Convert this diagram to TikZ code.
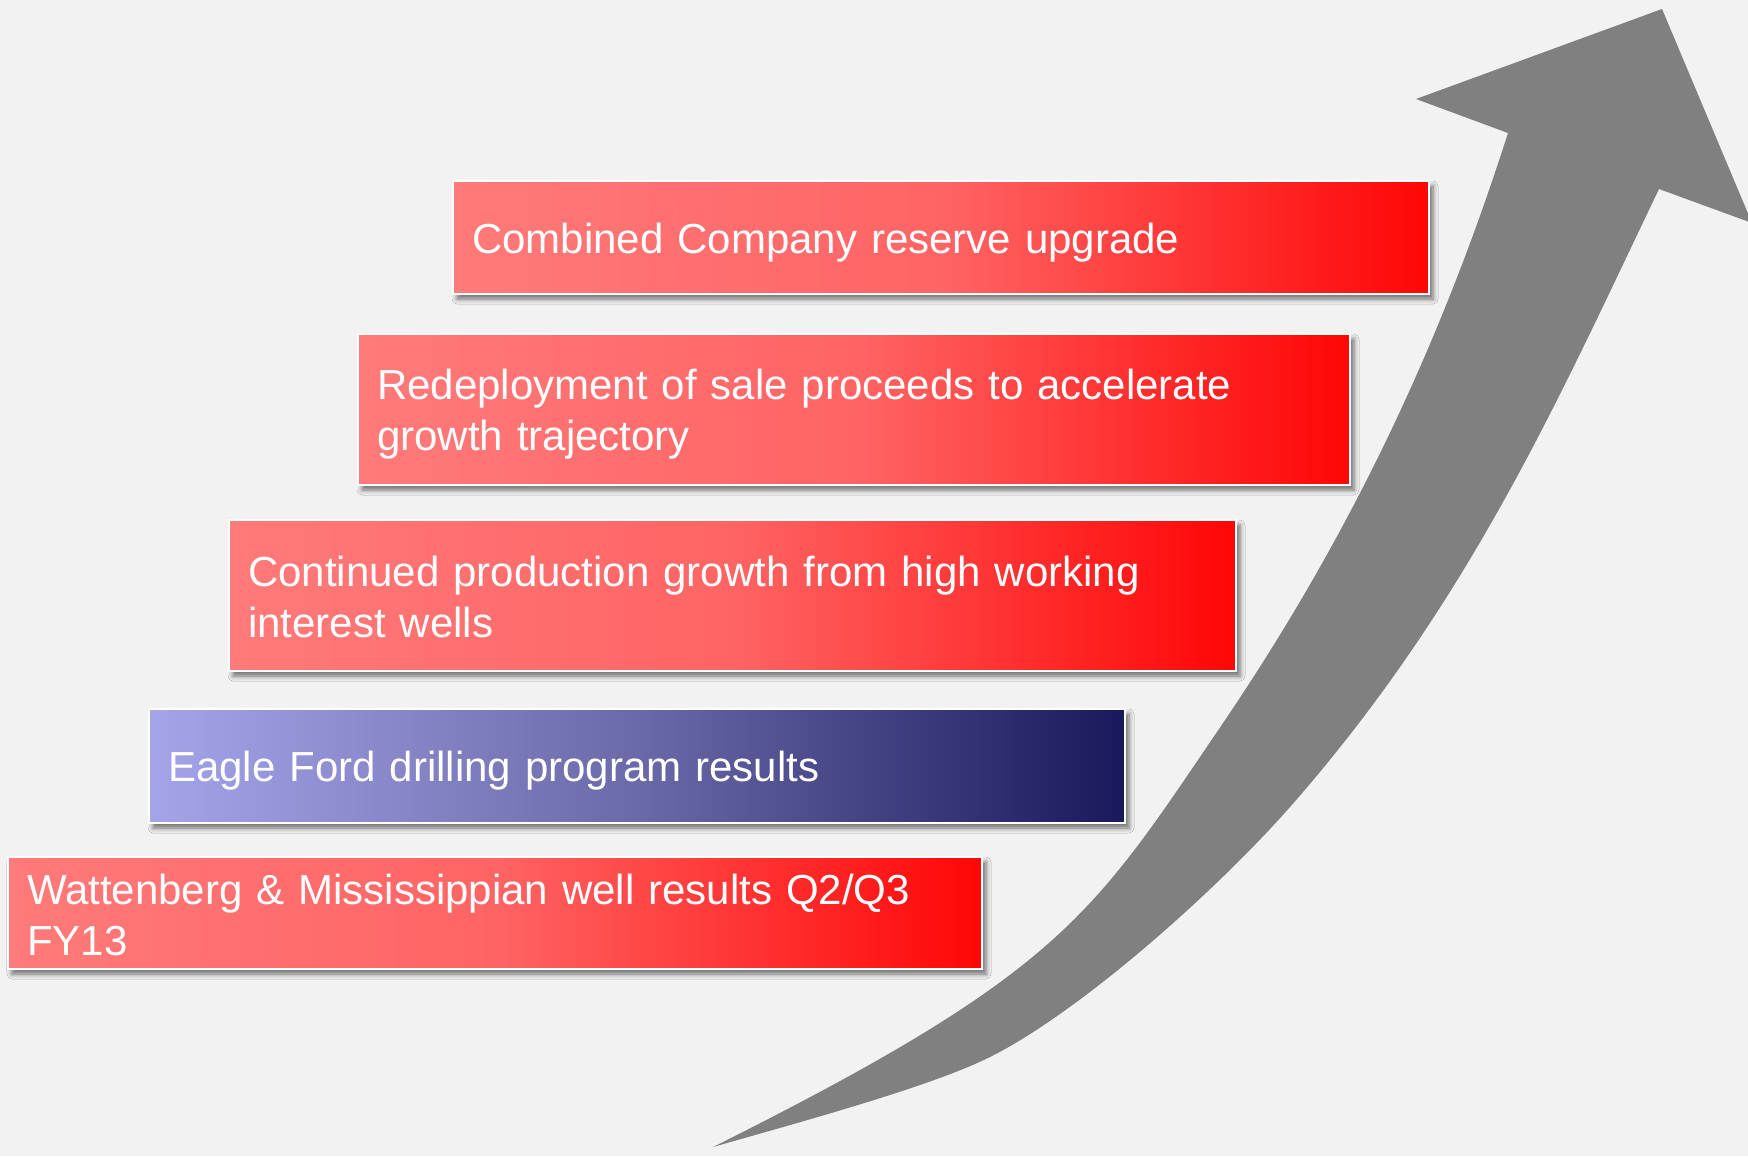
\documentclass[tikz,border=0pt]{standalone}
\usepackage{fontspec}
\setmainfont{Liberation Sans}
\usetikzlibrary{shadows.blur}
\definecolor{bg}{RGB}{242,242,242}
\definecolor{arrowgray}{RGB}{128,128,128}
\definecolor{redL}{RGB}{255,122,122}
\definecolor{redM}{RGB}{255,100,100}
\definecolor{redR}{RGB}{255,6,6}
\definecolor{bluL}{RGB}{164,164,234}
\definecolor{bluM}{RGB}{106,106,168}
\definecolor{bluR}{RGB}{24,24,92}
\newcommand{\lnstrut}{\rule[-3.4pt]{0pt}{23.4pt}}
\tikzset{
  stepbox/.style={rectangle, draw=white, line width=1pt, inner xsep=9.5pt, inner ysep=0pt,
    text=white, align=left, anchor=north west,
    font=\fontsize{21pt}{25.5pt}\selectfont,
    blur shadow={shadow xshift=2pt, shadow yshift=-2.5pt, shadow blur radius=2.5pt, shadow opacity=55}},
  redbox/.style={stepbox, left color=redL, right color=redR, middle color=redM},
  bluebox/.style={stepbox, left color=bluL, right color=bluR, middle color=bluM},
}
\begin{document}
\begin{tikzpicture}[x=0.5pt, y=-0.5pt]
\useasboundingbox (0,0) rectangle (1748,1156);
\clip (0,0) rectangle (1748,1156);
\fill[bg] (0,0) rectangle (1748,1156);
% arrow
\fill[arrowgray] (1508,133) -- (1416,99) -- (1662,9) -- (1752,223) -- (1659,189)
  .. controls (1560,395) and (1471,601) .. (1290,807)
  .. controls (1215,892) and (1080,1012) .. (990,1057)
  .. controls (930,1087) and (800,1122) .. (713,1147)
  .. controls (1063,972) and (1092,916) .. (1221,726)
  .. controls (1357,526) and (1444,333) .. (1508,133)
  -- cycle;
% boxes
\node[redbox, text width=469pt, minimum height=56.5pt] (b1) at (452,180) {\lnstrut Combined Company reserve upgrade};
\node[redbox, text width=477pt, minimum height=75.5pt] (b2) at (357,333) {\lnstrut Redeployment of sale proceeds to accelerate\\growth trajectory\lnstrut};
\node[redbox, text width=484.5pt, minimum height=75.5pt] (b3) at (228,519) {\lnstrut Continued production growth from high working\\interest wells\lnstrut};
\node[bluebox, text width=469pt, minimum height=57pt] (b4) at (148,708) {\lnstrut Eagle Ford drilling program results};
\node[redbox, text width=468pt, minimum height=56pt] (b5) at (7,856) {\lnstrut Wattenberg \& Mississippian well results Q2/Q3\\FY13\lnstrut};
\end{tikzpicture}
\end{document}
